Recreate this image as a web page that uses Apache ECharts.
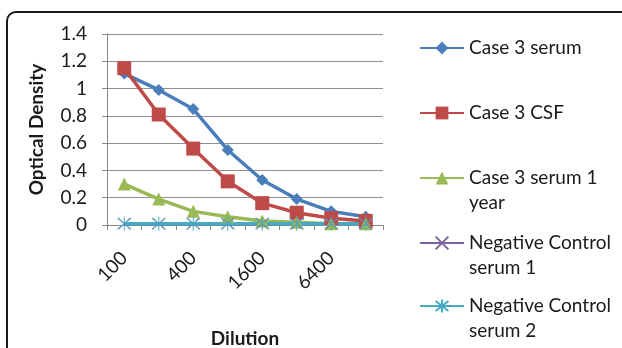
<!DOCTYPE html>
<html><head><meta charset="utf-8">
<script src="https://cdn.jsdelivr.net/npm/echarts@6/dist/echarts.min.js"></script>
<style>html,body{margin:0;padding:0;background:#fff}#c{width:622px;height:348px}</style>
</head><body><div id="c"></div>
<script>
const categories = ['100','200','400','800','1600','3200','6400','12800'];
const case3Serum = [1.11, 0.99, 0.85, 0.55, 0.33, 0.19, 0.10, 0.06];
const case3CSF = [1.15, 0.81, 0.56, 0.32, 0.16, 0.09, 0.05, 0.03];
const case3Serum1Year = [0.30, 0.19, 0.10, 0.06, 0.03, 0.02, 0.01, 0.01];
const negControl1 = [0.01, 0.01, 0.01, 0.01, 0.01, 0.01, 0.01, 0.01];
const negControl2 = [0.01, 0.01, 0.01, 0.01, 0.01, 0.01, 0.01, 0.01];
const seriesNames = ['Case 3 serum','Case 3 CSF','Case 3 serum 1 year','Negative Control serum 1','Negative Control serum 2'];
const legendLabels = ['Case 3 serum','Case 3 CSF','Case 3 serum 1\nyear','Negative Control\nserum 1','Negative Control\nserum 2'];
const yTicks = {min:0, max:1.4, interval:0.2};

const FONT = 'Lato';
const FS = 19;
const LH = 25;
const colors = ['#4A7EBB','#BE4B48','#98B954','#7D60A0','#46AAC5'];
const symbols = ['diamond','rect','triangle','path://M0,0L10,10M10,0L0,10','path://M5,-1.5L5,11.5M0,0L10,10M10,0L0,10'];
const symbolSizes = [12, 14, 13, 12, 14];
const dataSets = [case3Serum, case3CSF, case3Serum1Year, negControl1, negControl2];
const legendIconCenters = [48, 113, 178, 243, 306];

const chart = echarts.init(document.getElementById('c'), null, {renderer:'canvas'});
const legends = seriesNames.map((n, i) => {
  const two = legendLabels[i].indexOf('\n') >= 0;
  return {
    data: [n], left: 419, top: legendIconCenters[i] - (two ? 1.5 * LH : 0.5 * LH),
    padding: 0, itemWidth: 44, itemHeight: 16, orient: 'vertical',
    formatter: () => (two ? ' \n' : '') + legendLabels[i],
    textStyle: {fontFamily: FONT, fontSize: FS, color: '#1a1a1a', lineHeight: LH}
  };
});
chart.setOption({
  animation: false,
  textStyle: {fontFamily: FONT},
  graphic: [{type:'rect', shape:{x:7, y:12, width:700, height:500, r:9}, style:{fill:'none', stroke:'#1a1a1a', lineWidth:2}}],
  grid: {left: 107, top: 34, right: 239, bottom: 123, outerBoundsMode: 'none', containLabel: false},
  legend: legends,
  xAxis: {
    type: 'category', data: categories, boundaryGap: true,
    name: 'Dilution', nameLocation: 'middle', nameGap: 104,
    nameTextStyle: {fontFamily: FONT, fontSize: FS, fontWeight: 'bold', color: '#1a1a1a'},
    axisLine: {lineStyle: {color: '#888', width: 1}},
    axisTick: {show: true, alignWithLabel: false, interval: 0, length: 5, lineStyle: {color: '#888'}},
    axisLabel: {interval: 1, rotate: 45, margin: 30, fontFamily: FONT, fontSize: FS, color: '#1a1a1a'},
    splitLine: {show: false}
  },
  yAxis: {
    type: 'value', min: yTicks.min, max: yTicks.max, interval: yTicks.interval,
    name: 'Optical Density', nameLocation: 'middle', nameGap: 61,
    nameTextStyle: {fontFamily: FONT, fontSize: FS, fontWeight: 'bold', color: '#1a1a1a'},
    axisLine: {show: true, lineStyle: {color: '#888', width: 1}},
    axisTick: {show: true, length: 5, lineStyle: {color: '#888'}},
    axisLabel: {margin: 20, fontFamily: FONT, fontSize: FS, color: '#1a1a1a'},
    splitLine: {show: true, lineStyle: {color: '#909090', width: 1}}
  },
  series: seriesNames.map((n, i) => ({
    name: n, type: 'line', data: dataSets[i],
    symbol: symbols[i], symbolSize: symbolSizes[i], showAllSymbol: true,
    lineStyle: {color: colors[i], width: 3.5},
    itemStyle: i >= 3 ? {color: colors[i], borderColor: colors[i], borderWidth: 1} : {color: colors[i], borderWidth: 0},
    emphasis: {disabled: true}
  }))
});
</script></body></html>
